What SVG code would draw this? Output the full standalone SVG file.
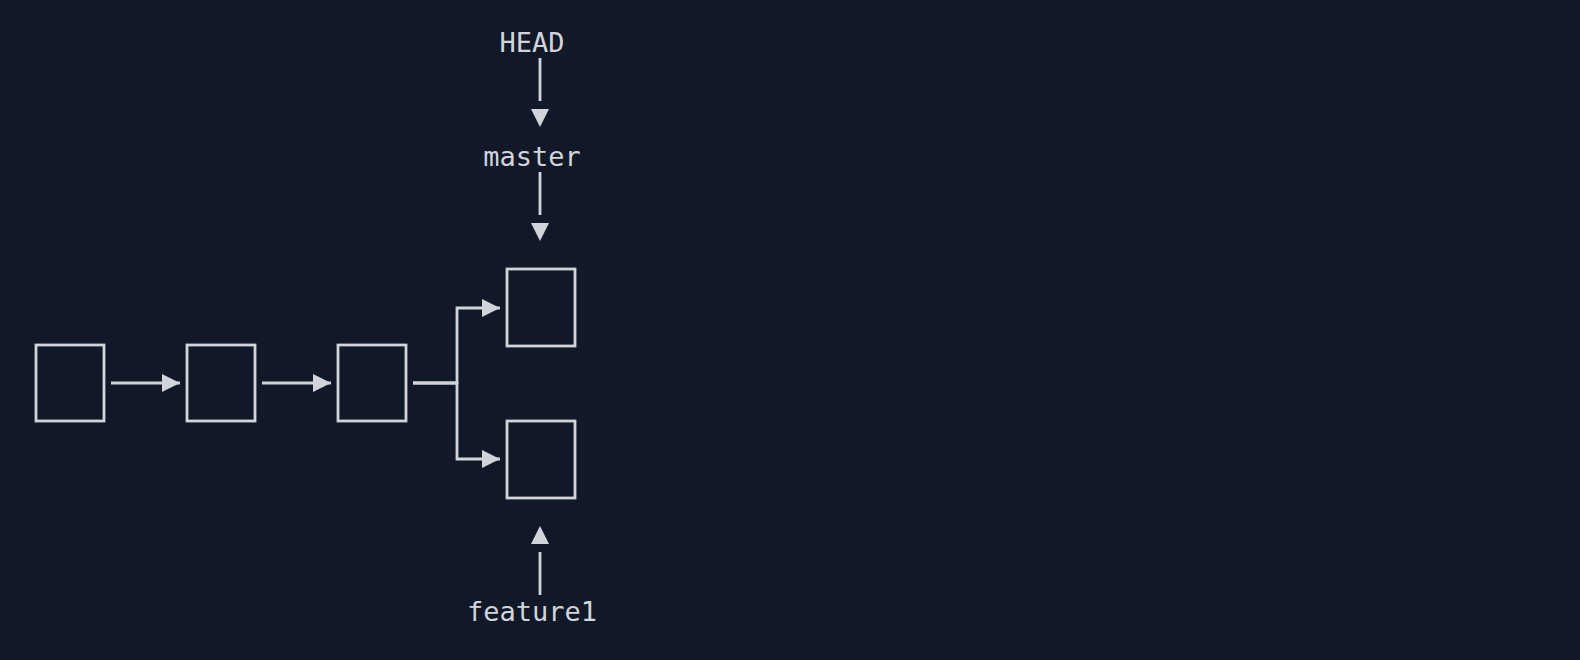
<svg xmlns="http://www.w3.org/2000/svg" width="1580" height="660" viewBox="0 0 1580 660">
<defs>
<style>
.box{fill:none;stroke:#d1d5db;stroke-width:2.8}
.con{fill:none;stroke:#d1d5db;stroke-width:2.8}
.arr{marker-end:url(#ah)}
.head{fill:#d1d5db}
.lbl{font-family:"DejaVu Sans Mono","Liberation Mono",monospace;font-size:27px;fill:#d1d5db;text-anchor:middle}
</style>
<marker id="ah" markerUnits="userSpaceOnUse" markerWidth="18" markerHeight="18" viewBox="0 0 18 18" refX="18" refY="9" orient="auto">
<path d="M0 0 L18 9 L0 18 Z" fill="#d1d5db"/>
</marker>
</defs>
<rect width="1580" height="660" fill="#111827"/>
<g id="c1"><rect class="box" x="36" y="345" width="68" height="76"/></g>
<g id="c2"><rect class="box" x="187" y="345" width="68" height="76"/></g>
<g id="c3"><rect class="box" x="338" y="345" width="68" height="76"/></g>
<g id="c4"><rect class="box" x="507" y="269" width="68" height="77"/></g>
<g id="c5"><rect class="box" x="507" y="421" width="68" height="77"/></g>
<g id="head"><text class="lbl" x="532" y="52">HEAD</text></g>
<g id="master"><text class="lbl" x="532" y="166">master</text></g>
<g id="feature1"><text class="lbl" x="532" y="621">feature1</text></g>
<g id="connectors">
<path class="con arr" d="M111 383 H180"/>
<path class="con arr" d="M262 383 H331"/>
<path class="con arr" d="M413 383 H457 V308 H500"/>
<path class="con arr" d="M413 383 H457 V459 H500"/>
<path class="con" d="M540 58 V101"/>
<path class="head" d="M531 109 H549 L540 127 Z"/>
<path class="con" d="M540 172 V215"/>
<path class="head" d="M531 223 H549 L540 241 Z"/>
<path class="con" d="M540 595 V552"/>
<path class="head" d="M531 544 H549 L540 526 Z"/>
</g>
</svg>
